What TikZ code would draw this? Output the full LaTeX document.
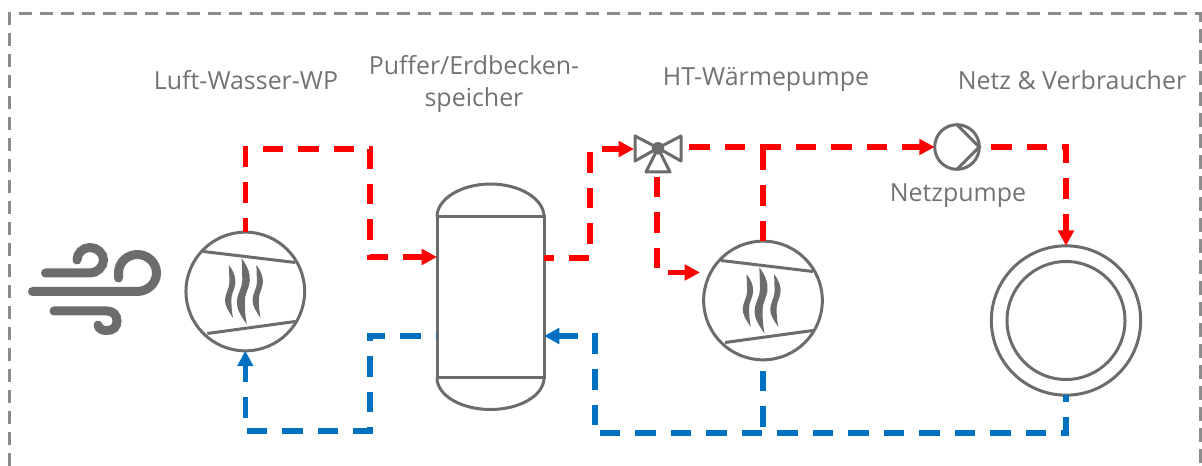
\documentclass[tikz,border=0pt]{standalone}
\usepackage{fontspec}
\setmainfont{Open Sans}
\usepackage{tikz}
\usetikzlibrary{arrows.meta,positioning}
\definecolor{plantgray}{RGB}{108,108,108}
\definecolor{labelgray}{RGB}{114,114,114}
\definecolor{framegray}{RGB}{140,140,140}
\definecolor{hotred}{RGB}{255,0,0}
\definecolor{coldblue}{RGB}{0,112,192}
\begin{document}
\begin{tikzpicture}[
  x=0.75pt,y=-0.75pt,
  lab/.style={font=\fontsize{18.7}{24}\selectfont,text=labelgray,align=center,inner sep=0pt},
  part/.style={draw=plantgray,line width=2.25pt,circle,inner sep=0pt,outer sep=0pt},
  sym/.style={draw=plantgray,line width=2.25pt},
  hot/.style={draw=hotred,line width=4pt,dash pattern=on 15.375pt off 11.25pt},
  cold/.style={draw=coldblue,line width=4pt,dash pattern=on 15.375pt off 11.25pt},
  arr/.style={-{Triangle[length=11.5pt,width=11.5pt]}},
  breeze/.style={draw=plantgray,line width=6.75pt,line cap=round},
  hpsym/.pic={
    \draw[sym] (-42,-40) -- (50,-29);
    \draw[sym] (-38,42) -- (50,30);
    \foreach \fx/\fs in {-13.5/0.8,0/1,14/0.8}
      \fill[plantgray,xshift=\fx*0.75pt,scale=\fs] (-3.6,-33) .. controls (2,-26) and (5,-18) .. (4.5,-11)
        .. controls (4,-3) and (-1,3) .. (-0.5,10) .. controls (-0.5,18) and (0,25) .. (1.5,33)
        .. controls (-4,25) and (-8.5,18) .. (-8.5,11) .. controls (-8.5,3) and (-3,-4) .. (-3,-11)
        .. controls (-3,-18) and (-3.5,-26) .. (-3.6,-33) -- cycle;
  }
]
\useasboundingbox (0,0) rectangle (1202,466);
% frame
\draw[draw=framegray,line width=2.25pt,dash pattern=on 10pt off 5.75pt] (9.3,466) -- (9.3,13.5) -- (1200,13.5) -- (1200,466);
% labels
\node[lab] (lblwp) at (246,80) {Luft-Wasser-WP};
\node[lab] (lbltank) at (474,83.5) {Puffer/Erdbecken-\\speicher};
\node[lab] (lblht) at (766,79) {HT-Wärmepumpe};
\node[lab] (lblnet) at (1072,80) {Netz \& Verbraucher};
\node[lab] (lblpump) at (958,196) {Netzpumpe};
% wind
\draw[breeze] (32.5,291.5) -- (137,291.5) .. controls (147.5,291.5) and (156.5,283.5) .. (156.5,273)
  .. controls (156.5,262.5) and (147.5,254.5) .. (137.5,254.5) .. controls (127,254.5) and (118.5,262.5) .. (118.5,273) -- (118.5,278);
\draw[breeze] (45.5,273) -- (90,273) .. controls (97,273) and (103.5,267) .. (103.5,260)
  .. controls (103.5,253) and (97,247.5) .. (90,247.5) .. controls (83,247.5) and (77,253) .. (77,260);
\draw[breeze] (54,311) -- (107,311) .. controls (113,311) and (117,315) .. (117,321)
  .. controls (117,327) and (113,330.5) .. (107,330.5) .. controls (102,330.5) and (99,329) .. (98,325);
% plant parts
\node[part,minimum size=89pt] (wpl) at (245.3,291.5) {};
\pic at (wpl) {hpsym};
\node[part,minimum size=89pt] (wph) at (763,300.5) {};
\pic at (wph) {hpsym};
\node[draw=plantgray,line width=2.25pt,minimum width=80.25pt,minimum height=120.75pt,inner sep=0pt,outer sep=0pt] (tank) at (490.5,297.2) {};
\draw[sym] (tank.north west) .. controls +(0,-18) and +(-29,0) .. (490.5,184)
  .. controls +(29,0) and +(0,-18) .. (tank.north east);
\draw[sym] (tank.south west) .. controls +(0,18) and +(-29,0) .. (490.5,409.5)
  .. controls +(29,0) and +(0,18) .. (tank.south east);
\node[circle,fill=plantgray,minimum size=9.4pt,inner sep=0pt] (valve) at (658,148.3) {};
\draw[sym,line join=round] (658,148) -- (635,136) -- (635,161) -- cycle;
\draw[sym,line join=round] (658,148) -- (681,136) -- (681,161) -- cycle;
\draw[sym,line join=round] (658,148) -- (646,172) -- (670,172) -- cycle;
\node[part,minimum size=33.5pt] (pump) at (957,147) {};
\draw[sym] (pump.north) -- (pump.east) -- (pump.south);
\node[part,minimum size=112pt] (netz) at (1066,320.5) {};
\node[part,minimum size=88.5pt] (netzin) at (netz) {};
% ports
\coordinate (tankhot) at (tank.west |- 0,257);
\coordinate (tankout) at (tank.east |- 0,258);
\coordinate (tankcold) at (tank.west |- 0,336);
\coordinate (tankret) at (tank.east |- 0,336);
\coordinate (valvein) at (634,149);
\coordinate (valveout) at (689,147);
\coordinate (valvedown) at (657,177);
\coordinate (wphin) at (700,272.5);
\coordinate (teehot) at (763,147);
\coordinate (pumpout) at (991,147);
\coordinate (netzcorner) at (1066,433);
\coordinate (retleft) at (600,433);
\coordinate (retlow) at (595,425);
\coordinate (rethigh) at (595,333);
\coordinate (retstart) at (578,336);
% hot side
\draw[hot,arr,dash phase=4.5pt] (wpl.north) -- (245.3,149) -- (370,149) -- (370,257) -- (tankhot);
\draw[hot,arr,dash phase=8.25pt] (tankout) -- (590,258) -- (590,149) -- (valvein);
\draw[hot,arr] (valveout) -- (pump.west);
\draw[hot] (wph.north) -- (teehot);
\draw[hot,arr] (valvedown) -- (657,272.5) -- (wphin);
\draw[hot,arr] (pumpout) -- (1066,147) -- (netz.north);
% cold side
\draw[cold,arr,dash phase=14.6pt] (tankcold) -- (370,336) -- (370,431) -- (245.3,431) -- (wpl.south);
\draw[cold,dash phase=10.1pt] (netz.south) -- (netzcorner) -- (retleft);
\draw[cold] (retlow) -- (rethigh);
\draw[cold,arr] (retstart) -- (tankret);
\draw[cold,dash phase=18.4pt] (wph.south) -- (763,433);
\end{tikzpicture}
\end{document}
